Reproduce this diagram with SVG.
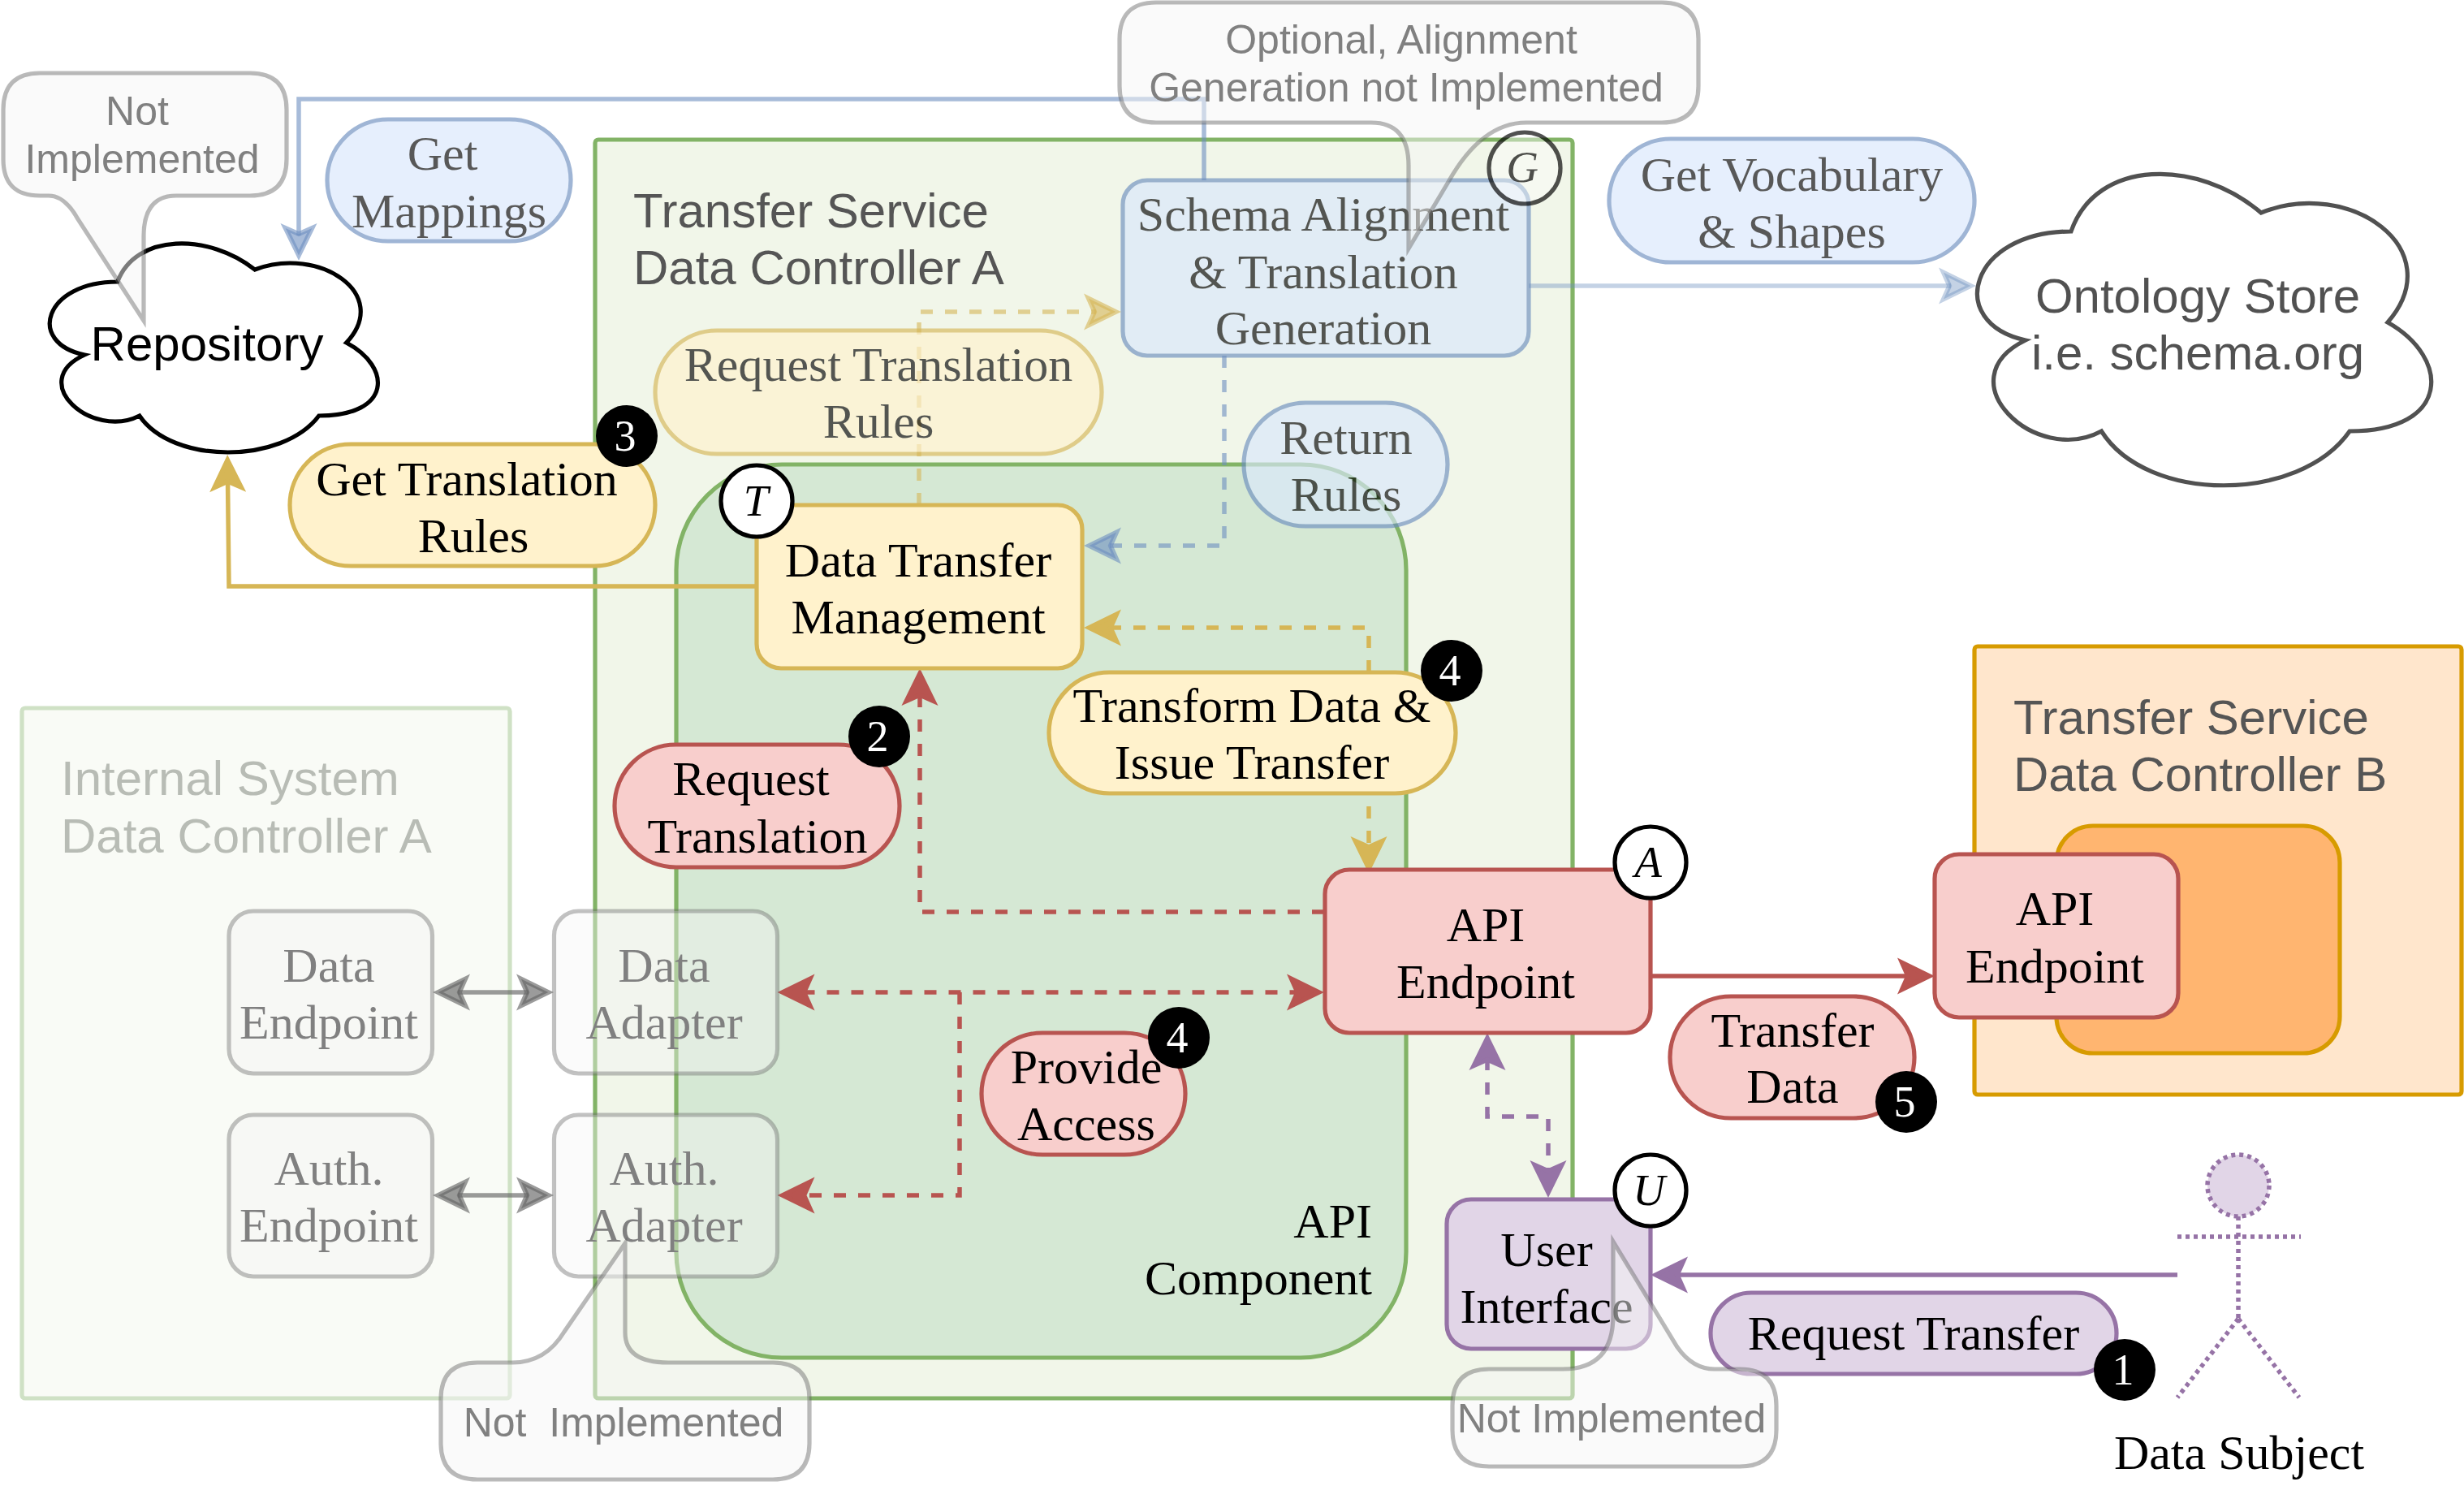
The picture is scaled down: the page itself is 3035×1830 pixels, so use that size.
<svg xmlns="http://www.w3.org/2000/svg" width="3035" height="1830" viewBox="0 0 3035 1830">
<style>
text{font-size:60px;text-anchor:middle;fill:#000;white-space:pre}
.se{font-family:"Liberation Serif","Times New Roman",serif}
.sa{font-family:"Liberation Sans",Arial,sans-serif}
.it{font-family:"Liberation Serif","Times New Roman",serif;font-style:italic;font-size:55px}
.bd{font-family:"Liberation Serif","Times New Roman",serif;font-size:54px;fill:#fff}
.co text{font-family:"Liberation Sans",Arial,sans-serif;font-size:50px;fill:#808080}
.co path{fill:#f5f5f5;fill-opacity:.5;stroke:#666;stroke-opacity:.45;stroke-width:5.2}
.st{stroke-width:5.2;stroke-linejoin:round}
.cl{fill:#fff;stroke:#000;stroke-width:5.2;stroke-linejoin:miter}
.ye{fill:#fff2cc;stroke:#d6b656}
.re{fill:#f8cecc;stroke:#b85450}
.pu{fill:#e1d5e7;stroke:#9673a6}
.bl{fill:#dae8fc;stroke:#6c8ebf}
.gr rect{fill:#f5f5f5;fill-opacity:.4;stroke:#666;stroke-opacity:.4;stroke-width:5.2}
.gr text{font-family:"Liberation Serif","Times New Roman",serif;fill:#808080}
.lbl{fill:#555;text-anchor:start}
.ring{fill:#fff;stroke:#000;stroke-width:5.2}
#connectors path{fill:none;stroke-width:5.5}
.d{stroke-dasharray:15 15}
.ah{stroke-width:5.8;stroke-miterlimit:6}
</style>
<defs>
<marker id="a-blue" markerUnits="userSpaceOnUse" markerWidth="52" markerHeight="46" viewBox="0 0 52 46" refX="15" refY="23" orient="auto-start-reverse" overflow="visible"><path class="ah" d="M5.900 6.600L39.400 23L5.900 39.400L13.200 23Z" fill="#6c8ebf" fill-opacity=".6" stroke="#6c8ebf" stroke-opacity=".6"/></marker>
<marker id="a-bluel" markerUnits="userSpaceOnUse" markerWidth="52" markerHeight="46" viewBox="0 0 52 46" refX="15" refY="23" orient="auto-start-reverse" overflow="visible"><path class="ah" d="M5.900 6.600L39.400 23L5.900 39.400L13.200 23Z" fill="#6c8ebf" fill-opacity=".4" stroke="#6c8ebf" stroke-opacity=".4"/></marker>
<marker id="a-yellow" markerUnits="userSpaceOnUse" markerWidth="52" markerHeight="46" viewBox="0 0 52 46" refX="15" refY="23" orient="auto-start-reverse" overflow="visible"><path class="ah" d="M5.900 6.600L39.400 23L5.900 39.400L13.200 23Z" fill="#d6b656" stroke="#d6b656"/></marker>
<marker id="a-yellowf" markerUnits="userSpaceOnUse" markerWidth="52" markerHeight="46" viewBox="0 0 52 46" refX="15" refY="23" orient="auto-start-reverse" overflow="visible"><path class="ah" d="M5.900 6.600L39.400 23L5.900 39.400L13.200 23Z" fill="#d6b656" fill-opacity=".6" stroke="#d6b656" stroke-opacity=".6"/></marker>
<marker id="a-red" markerUnits="userSpaceOnUse" markerWidth="52" markerHeight="46" viewBox="0 0 52 46" refX="15" refY="23" orient="auto-start-reverse" overflow="visible"><path class="ah" d="M5.900 6.600L39.400 23L5.900 39.400L13.200 23Z" fill="#b85450" stroke="#b85450"/></marker>
<marker id="a-purple" markerUnits="userSpaceOnUse" markerWidth="52" markerHeight="46" viewBox="0 0 52 46" refX="15" refY="23" orient="auto-start-reverse" overflow="visible"><path class="ah" d="M5.900 6.600L39.400 23L5.900 39.400L13.200 23Z" fill="#9673a6" stroke="#9673a6"/></marker>
<marker id="a-gray" markerUnits="userSpaceOnUse" markerWidth="52" markerHeight="46" viewBox="0 0 52 46" refX="15" refY="23" orient="auto-start-reverse" overflow="visible"><path class="ah" d="M5.900 6.600L39.400 23L5.900 39.400L13.200 23Z" fill="#666" fill-opacity=".65" stroke="#666" stroke-opacity=".65"/></marker>
</defs>

<g id="internal-system">
<rect x="27" y="872" width="601" height="850" rx="4" fill="#f9fbf6" stroke="#cfe1c5" stroke-width="5.200"/>
<text class="sa" style="text-anchor:start;fill:#b8bcb5" x="75" y="979">Internal System</text>
<text class="sa" style="text-anchor:start;fill:#b8bcb5" x="75" y="1050">Data Controller A</text>
</g>
<g id="transfer-service-a">
<rect x="733" y="172" width="1204" height="1550" rx="4" fill="#f1f6e9" stroke="#82b366" stroke-width="5.200"/>
<text class="sa lbl" x="780" y="280">Transfer Service</text>
<text class="sa lbl" x="780" y="350">Data Controller A</text>
</g>
<g id="api-component">
<rect x="833" y="572" width="899" height="1100" rx="130" fill="#d5e8d4" stroke="#82b366" stroke-width="5.200"/>
<text class="se" style="text-anchor:end" x="1690" y="1524">API</text>
<text class="se" style="text-anchor:end" x="1690" y="1594">Component</text>
</g>
<g id="transfer-service-b">
<rect x="2432" y="796" width="600" height="552" rx="4" fill="#ffe6cc" stroke="#d79b00" stroke-width="5.200"/>
<text class="sa lbl" x="2480" y="904">Transfer Service</text>
<text class="sa lbl" x="2480" y="974">Data Controller B</text>
</g>
<g id="orange-component"><rect x="2533" y="1017" width="349" height="280" rx="45" fill="#ffb570" stroke="#d79b00" stroke-width="5.200"/></g>

<g id="connectors">
<path d="M1483 222V122H368V290" stroke="#6c8ebf" stroke-opacity=".6" marker-end="url(#a-blue)"/>
<path d="M1883 352H2403" stroke="#6c8ebf" stroke-opacity=".4" marker-end="url(#a-bluel)"/>
<path d="M932 722H282L280.500 591" stroke="#d6b656" marker-end="url(#a-yellow)"/>
<path class="d" d="M1132 622V384H1350" stroke="#d6b656" stroke-opacity=".6" marker-end="url(#a-yellowf)"/>
<path class="d" d="M1508 438V672H1366" stroke="#6c8ebf" stroke-opacity=".6" marker-end="url(#a-blue)"/>
<path class="d" d="M1366 773H1686V1045" stroke="#d6b656" marker-start="url(#a-yellow)" marker-end="url(#a-yellow)"/>
<path class="d" d="M1631 1123H1133V854" stroke="#b85450" marker-end="url(#a-red)"/>
<path class="d" d="M988.500 1222H1600" stroke="#b85450" marker-start="url(#a-red)" marker-end="url(#a-red)"/>
<path class="d" d="M1182 1222V1472H988.500" stroke="#b85450" marker-end="url(#a-red)"/>
<path d="M2033 1202H2352" stroke="#b85450" marker-end="url(#a-red)"/>
<path class="d" d="M1832 1303V1375H1907V1444" stroke="#9673a6" marker-start="url(#a-purple)" marker-end="url(#a-purple)"/>
<path d="M2682 1570H2064" stroke="#9673a6" marker-end="url(#a-purple)"/>
<path d="M564 1222H651" stroke="#666" stroke-opacity=".65" marker-start="url(#a-gray)" marker-end="url(#a-gray)"/>
<path d="M564 1472H651" stroke="#666" stroke-opacity=".65" marker-start="url(#a-gray)" marker-end="url(#a-gray)"/>
</g>

<g id="repository">
<path class="cl" d="M144.750 347C54.550 347 32 422 104.160 437C32 470 113.180 542 171.810 512C212.400 572 347.700 572 392.800 512C483 512 483 452 426.630 422C483 362 392.800 302 313.880 332C257.500 287 167.300 287 144.750 347Z"/>
<text class="sa" x="255" y="444">Repository</text>
</g>
<g id="ontology-store" opacity=".68">
<path class="cl" d="M2551 285C2426.200 285 2395 397 2494.800 419C2395 468 2507.300 575 2588.400 531C2644.600 620 2831.800 620 2894.200 531C3019 531 3019 441 2941 397C3019 307 2894.200 218 2785 262C2707 195 2582.200 195 2551 285Z"/>
<text class="sa" x="2707" y="385">Ontology Store</text>
<text class="sa" x="2707" y="455">i.e. schema.org</text>
</g>
<g id="get-mappings" opacity=".65">
<rect class="bl st" x="403" y="147" width="300" height="150" rx="75"/>
<text class="se" x="545" y="209">Get</text>
<text class="se" x="553" y="280">Mappings</text>
</g>
<g id="get-vocabulary" opacity=".65">
<rect class="bl st" x="1982" y="171" width="450" height="152" rx="76"/>
<text class="se" x="2207" y="235">Get Vocabulary</text>
<text class="se" x="2207" y="305">&amp; Shapes</text>
</g>
<g id="schema-alignment" opacity=".65">
<rect class="bl st" x="1383" y="222" width="500" height="216" rx="30"/>
<text class="se" x="1630" y="284">Schema Alignment</text>
<text class="se" x="1630" y="355">&amp; Translation</text>
<text class="se" x="1630" y="424">Generation</text>
</g>
<g id="request-translation-rules" opacity=".65">
<rect class="ye st" x="807" y="407" width="550" height="152" rx="76"/>
<text class="se" x="1082" y="469">Request Translation</text>
<text class="se" x="1082" y="539">Rules</text>
</g>
<g id="return-rules" opacity=".65">
<rect class="bl st" x="1532" y="496" width="251" height="152" rx="76"/>
<text class="se" x="1658" y="559">Return</text>
<text class="se" x="1658" y="629">Rules</text>
</g>
<g id="get-translation-rules">
<rect class="ye st" x="357" y="547" width="450" height="150" rx="75"/>
<text class="se" x="575" y="610">Get Translation</text>
<text class="se" x="583" y="680">Rules</text>
</g>
<g id="data-transfer-management">
<rect class="ye st" x="932" y="622" width="401" height="201" rx="30"/>
<text class="se" x="1131" y="710">Data Transfer</text>
<text class="se" x="1131" y="780">Management</text>
</g>
<g id="transform-data">
<rect class="ye st" x="1292" y="828" width="501" height="149" rx="74.500"/>
<text class="se" x="1542" y="889">Transform Data &amp;</text>
<text class="se" x="1542" y="959">Issue Transfer</text>
</g>
<g id="request-translation">
<rect class="re st" x="757" y="917" width="351" height="151" rx="75.500"/>
<text class="se" x="925" y="979">Request</text>
<text class="se" x="933" y="1050">Translation</text>
</g>
<g id="api-endpoint-a">
<rect class="re st" x="1632" y="1071" width="401" height="201" rx="30"/>
<text class="se" x="1830" y="1159">API</text>
<text class="se" x="1830" y="1229">Endpoint</text>
</g>
<g id="provide-access">
<rect class="re st" x="1209" y="1272" width="251" height="150" rx="75"/>
<text class="se" x="1338" y="1334">Provide</text>
<text class="se" x="1338" y="1404">Access</text>
</g>
<g id="user-interface">
<rect class="pu st" x="1782" y="1477" width="251" height="184" rx="30"/>
<text class="se" x="1905" y="1559">User</text>
<text class="se" x="1905" y="1629">Interface</text>
</g>
<g id="api-endpoint-b">
<rect class="re st" x="2383" y="1052" width="300" height="201" rx="30"/>
<text class="se" x="2531" y="1139">API</text>
<text class="se" x="2531" y="1210">Endpoint</text>
</g>
<g id="transfer-data">
<rect class="re st" x="2057" y="1227" width="301" height="150" rx="75"/>
<text class="se" x="2208" y="1289">Transfer</text>
<text class="se" x="2208" y="1358">Data</text>
</g>
<g id="request-transfer">
<rect class="pu st" x="2107" y="1592" width="500" height="100" rx="50"/>
<text class="se" x="2357" y="1662">Request Transfer</text>
</g>
<g id="data-subject" fill="none" stroke="#9673a6" stroke-width="5.500" stroke-dasharray="5 5">
<circle cx="2757" cy="1460" r="38" fill="#e1d5e7"/>
<path d="M2757 1498V1624M2682 1523H2834M2757 1624L2682 1721M2757 1624L2832 1721"/>
<text class="se" x="2758" y="1809" stroke="none" style="stroke-dasharray:none">Data Subject</text>
</g>
<g class="gr" id="data-endpoint">
<rect x="282" y="1122" width="250.500" height="200" rx="30"/>
<text x="405" y="1209">Data</text>
<text x="405" y="1279">Endpoint</text>
</g>
<g class="gr" id="auth-endpoint">
<rect x="282" y="1373" width="250.500" height="199" rx="30"/>
<text x="405" y="1459">Auth.</text>
<text x="405" y="1529">Endpoint</text>
</g>
<g class="gr" id="data-adapter">
<rect x="682.500" y="1122" width="275" height="200" rx="30"/>
<text x="818" y="1209">Data</text>
<text x="818" y="1279">Adapter</text>
</g>
<g class="gr" id="auth-adapter">
<rect x="682.500" y="1373" width="275" height="199" rx="30"/>
<text x="818" y="1459">Auth.</text>
<text x="818" y="1529">Adapter</text>
</g>

<g class="co" id="note-repository">
<path d="M49 90H308Q353 90 353 135V196Q353 241 308 241H217Q177 241 177 291V395L96 270Q80 241 60 241H49Q4 241 4 196V135Q4 90 49 90Z"/>
<text x="169" y="154">Not</text>
<text x="175" y="213">Implemented</text>
</g>
<g class="co" id="note-alignment">
<path d="M1424 3H2047Q2092 3 2092 48V106Q2092 151 2047 151H1880Q1825 151 1784 224L1735 306V204Q1735 151 1689 151H1424Q1379 151 1379 106V48Q1379 3 1424 3Z"/>
<text x="1726" y="66">Optional, Alignment</text>
<text x="1732" y="125">Generation not Implemented</text>
</g>
<g class="co" id="note-adapter">
<path d="M588 1678H631Q672 1678 695 1640L770 1531V1641Q770 1678 823 1678H952Q997 1678 997 1723V1777Q997 1822 952 1822H588Q543 1822 543 1777V1723Q543 1678 588 1678Z"/>
<text x="768" y="1769">Not  Implemented</text>
</g>
<g class="co" id="note-ui">
<path d="M1834 1686H1925Q1987 1686 1987 1620V1529L2066 1659Q2085 1686 2112 1686H2143Q2188 1686 2188 1731V1761Q2188 1806 2143 1806H1834Q1789 1806 1789 1761V1731Q1789 1686 1834 1686Z"/>
<text x="1985" y="1764">Not Implemented</text>
</g>

<g id="marker-t"><circle class="ring" cx="932" cy="617" r="44"/><text class="it" x="931" y="635">T</text></g>
<g id="marker-g" opacity=".68"><circle class="ring" cx="1878" cy="207" r="44" style="fill-opacity:.6"/><text class="it" x="1875" y="224">G</text></g>
<g id="marker-a"><circle class="ring" cx="2033" cy="1062" r="44"/><text class="it" x="2030" y="1080">A</text></g>
<g id="marker-u"><circle class="ring" cx="2033" cy="1466" r="44"/><text class="it" x="2031" y="1484">U</text></g>
<g id="step-3"><circle cx="772" cy="537" r="38"/><text class="bd" x="770" y="555">3</text></g>
<g id="step-2"><circle cx="1083" cy="907" r="38"/><text class="bd" x="1081" y="925">2</text></g>
<g id="step-4a"><circle cx="1788" cy="826" r="38"/><text class="bd" x="1786" y="844">4</text></g>
<g id="step-4b"><circle cx="1452" cy="1278" r="38"/><text class="bd" x="1450" y="1296">4</text></g>
<g id="step-5"><circle cx="2348" cy="1357" r="38"/><text class="bd" x="2346" y="1375">5</text></g>
<g id="step-1"><circle cx="2617" cy="1687" r="38"/><text class="bd" x="2615" y="1705">1</text></g>
</svg>
